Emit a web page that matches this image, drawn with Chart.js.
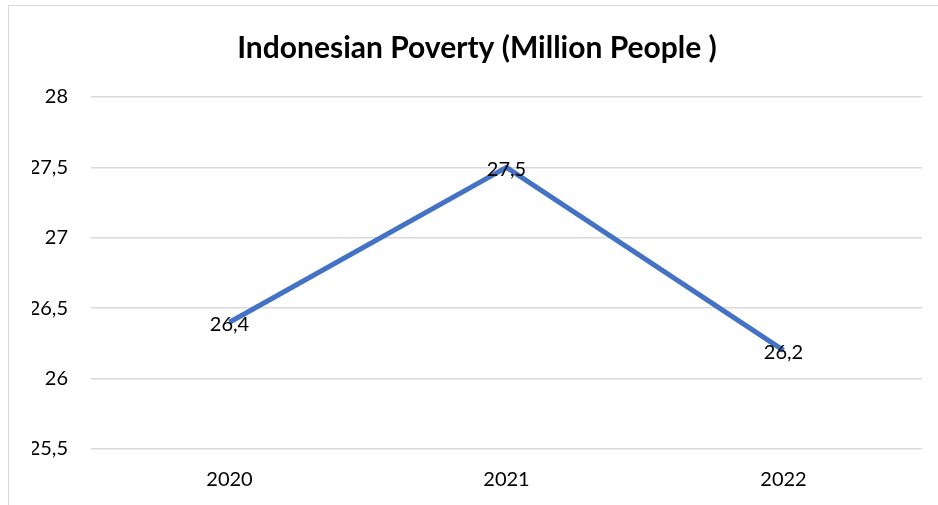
<!DOCTYPE html>
<html>
<head>
<meta charset="utf-8">
<script src="https://cdn.jsdelivr.net/npm/chart.js@4/dist/chart.umd.min.js"></script>
<style>
  html, body { margin: 0; padding: 0; background: #fff; overflow: hidden; }
  #wrap { position: absolute; left: 0; top: 0; width: 938px; height: 505px; }
  #frame { position: absolute; left: 8px; top: 5px; width: 1000px; height: 600px; border: 1px solid #d9d9d9; box-sizing: border-box; }
</style>
</head>
<body>
<div id="frame"></div>
<div id="wrap"><canvas id="povertyChart" width="938" height="505"></canvas></div>
<script>
// datos del gráfico
const years = ["2020", "2021", "2022"];
const poverty = [26.4, 27.5, 26.2];
const yTicks = [25.5, 26, 26.5, 27, 27.5, 28];

const fmt = v => String(v).replace(".", ",");

// etiquetas de valor centradas sobre cada punto
const valueLabels = {
    id: "valueLabels",
    afterDatasetsDraw(chart) {
        const ctx = chart.ctx;
        const meta = chart.getDatasetMeta(0);
        ctx.save();
        ctx.font = "20px Lato";
        ctx.fillStyle = "#000";
        ctx.textAlign = "center";
        ctx.textBaseline = "middle";
        meta.data.forEach((pt, i) => {
            ctx.fillText(fmt(poverty[i]), pt.x, pt.y + 2);
        });
        ctx.restore();
    }
};

new Chart(document.getElementById("povertyChart"), {
    type: "line",
    data: {
        labels: years,
        datasets: [{
            data: poverty,
            borderColor: "#4472C4",
            borderWidth: 5,
            pointRadius: 0,
            tension: 0,
            fill: false
        }]
    },
    options: {
        responsive: false,
        animation: false,
        layout: { padding: { left: 32, right: 16, top: 0, bottom: 0 } },
        plugins: {
            legend: { display: false },
            tooltip: { enabled: false },
            title: {
                display: true,
                text: "Indonesian Poverty (Million People )",
                color: "#000",
                font: { family: "Lato", size: 30, weight: "bold", lineHeight: 1.2 },
                padding: { top: 30, bottom: 31 }
            }
        },
        scales: {
            x: {
                offset: true,
                grid: { display: false, drawTicks: false },
                border: { display: false },
                ticks: { color: "#000", font: { family: "Lato", size: 20 }, padding: 19 },
                afterFit: s => { s.height = 56; }
            },
            y: {
                min: 25.5,
                max: 28,
                afterBuildTicks: s => { s.ticks = yTicks.map(v => ({ value: v })); },
                grid: { color: "#d9d9d9", lineWidth: 1.5, drawTicks: false },
                border: { display: false },
                ticks: {
                    color: "#000",
                    font: { family: "Lato", size: 20 },
                    padding: 23,
                    callback: v => fmt(v)
                },
                afterFit: s => { s.width = 59; }
            }
        }
    },
    plugins: [valueLabels]
});
</script>
</body>
</html>
